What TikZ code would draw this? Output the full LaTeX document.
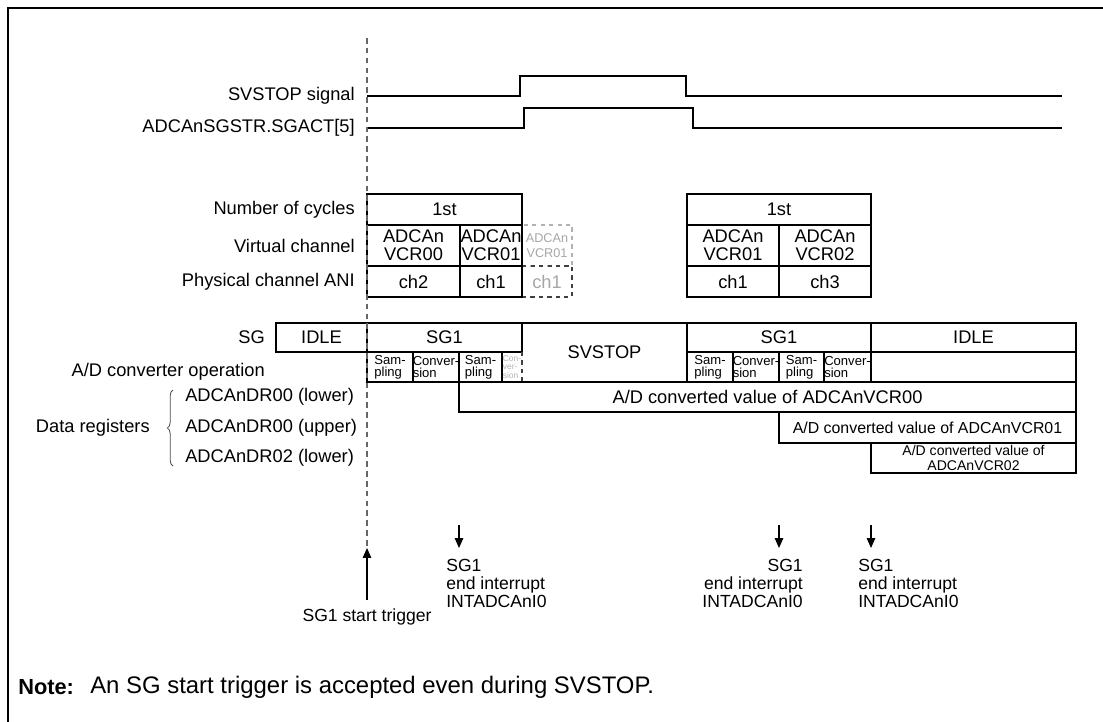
\documentclass[tikz,border=0pt]{standalone}
\usepackage{fontspec}
\setmainfont{Liberation Sans}
\usetikzlibrary{arrows.meta, decorations.pathreplacing}

\begin{document}
\begin{tikzpicture}[
    x=0.025cm, y=-0.025cm,
    >={Triangle[length=7pt, width=6pt]},
    sigtxt/.style={anchor=east, inner sep=0pt, font=\fontsize{13}{15}\selectfont},
    regtxt/.style={anchor=west, inner sep=0pt, font=\fontsize{13}{15}\selectfont},
    cell/.style={rectangle, draw, line width=1.1pt, inner sep=0pt, outer sep=0pt, align=center, font=\fontsize{13}{13}\selectfont},
    opcell/.style={cell, align=left, minimum height=0.75cm, font=\fontsize{9.3}{8.6}\selectfont},
    ghost/.style={cell, dashed, draw=black!30, text=black!35},
    irqtxt/.style={inner sep=0pt, align=left, font=\fontsize{12.5}{12.8}\selectfont},
    wave/.style={line width=1.4pt},
    arrow/.style={->, line width=0.9pt}
]
\useasboundingbox (0,0) rectangle (1103,722);

% ==================== Frame ====================
\draw[line width=1.7pt] (1103,8) -- (8,8) -- (8,722);

% ==================== Signals ====================
\node[sigtxt] (sig_svstop) at (355,96) {SVSTOP signal};
\node[sigtxt] (sig_sgact) at (355,128) {ADCAnSGSTR.SGACT[5]};

\draw[wave] (367,96) -- (520,96) -- (520,76) -- (686,76) -- (686,96) -- (1062,96);
\draw[wave] (367,128) -- (524,128) -- (524,108) -- (693,108) -- (693,128) -- (1062,128);

% ==================== Row labels ====================
\node[sigtxt] (lb_cyc) at (355,209.5) {Number of cycles};
\node[sigtxt] (lb_vc) at (355,245.5) {Virtual channel};
\node[sigtxt] (lb_pc) at (355,281.5) {Physical channel ANI};
\node[sigtxt] (lb_sg) at (265,337.5) {SG};
\node[sigtxt] (lb_ad) at (265,372) {A/D converter operation};

\node[sigtxt] (lb_dr) at (150,428) {Data registers};
\node[regtxt] (dr00_lo) at (185,397) {ADCAnDR00 (lower)};
\node[regtxt] (dr00_up) at (185,428) {ADCAnDR00 (upper)};
\node[regtxt] (dr02_lo) at (185,458) {ADCAnDR02 (lower)};
\draw[decorate, decoration={brace, amplitude=4pt}, line width=0.6pt, black!70] (173,466) -- (173,390);

% ==================== Channel table (first SG1) ====================
\node[ghost, minimum width=1.25cm, minimum height=1.025cm, font=\fontsize{9}{10.5}\selectfont] (vc01_g) at (547,245.5) {ADCAn\\VCR01};
\node[ghost, draw=black!75, minimum width=1.25cm, minimum height=0.775cm] (ch1_g) at (547,281.5) {ch1};

\node[cell, minimum width=3.875cm, minimum height=0.775cm] (cyc_a) at (444.5,209.5) {1st};
\node[cell, minimum width=2.325cm, minimum height=1.025cm] (vc00_a) at (413.5,245.5) {ADCAn\\VCR00};
\node[cell, minimum width=1.55cm, minimum height=1.025cm] (vc01_a) at (491,245.5) {ADCAn\\VCR01};
\node[cell, minimum width=2.325cm, minimum height=0.775cm] (ch2_a) at (413.5,281.5) {ch2};
\node[cell, minimum width=1.55cm, minimum height=0.775cm] (ch1_a) at (491,281.5) {ch1};

% ==================== Channel table (second SG1) ====================
\node[cell, minimum width=4.6cm, minimum height=0.775cm] (cyc_b) at (779,209.5) {1st};
\node[cell, minimum width=2.3cm, minimum height=1.025cm] (vc01_b) at (733,245.5) {ADCAn\\VCR01};
\node[cell, minimum width=2.3cm, minimum height=1.025cm] (vc02_b) at (825,245.5) {ADCAn\\VCR02};
\node[cell, minimum width=2.3cm, minimum height=0.775cm] (ch1_b) at (733,281.5) {ch1};
\node[cell, minimum width=2.3cm, minimum height=0.775cm] (ch3_b) at (825,281.5) {ch3};

% ==================== SG states ====================
\node[cell, minimum width=2.275cm, minimum height=0.725cm] (idle_a) at (321.5,337.5) {IDLE};
\node[cell, minimum width=3.875cm, minimum height=0.725cm] (sg1_a) at (444.5,337.5) {SG1};
\node[cell, draw=none, minimum width=4.125cm, minimum height=1.475cm] (svstop) at (604.5,352.5) {SVSTOP};
\draw[line width=1.1pt] (svstop.north west) -- (svstop.north east) -- (svstop.south east) -- (svstop.south west);
\node[cell, minimum width=4.6cm, minimum height=0.725cm] (sg1_b) at (779,337.5) {SG1};
\node[cell, minimum width=5.125cm, minimum height=0.725cm] (idle_b) at (973.5,337.5) {IDLE};
\node[cell, minimum width=5.125cm, minimum height=0.75cm] (idle_b_op) at (973.5,367) {};

% ==================== A/D operation ====================
\node[opcell, minimum width=1.15cm] (smp_a1) at (390,367) {Sam-\\pling};
\node[opcell, minimum width=1.15cm] (cnv_a1) at (436,367) {Conver-\\sion};
\node[opcell, minimum width=1.075cm] (smp_a2) at (480.5,367) {Sam-\\pling};
\node[opcell, draw=none, text=black!30, minimum width=0.5cm, font=\fontsize{6}{6}\selectfont] (cnv_a2) at (512,367) {Con-\\ver-\\sion};
\draw[line width=1.1pt, dashed, black!75] (cnv_a2.north east) -- (cnv_a2.south east);

\node[opcell, minimum width=1.15cm] (smp_b1) at (710,367) {Sam-\\pling};
\node[opcell, minimum width=1.15cm] (cnv_b1) at (756,367) {Conver-\\sion};
\node[opcell, minimum width=1.125cm] (smp_b2) at (801.5,367) {Sam-\\pling};
\node[opcell, minimum width=1.175cm] (cnv_b2) at (847.5,367) {Conver-\\sion};

% ==================== Converted values ====================
\node[cell, minimum width=15.425cm, minimum height=0.75cm] (val00) at (767.5,397) {A/D converted value of ADCAnVCR00};
\node[cell, minimum width=7.425cm, minimum height=0.775cm, font=\fontsize{11.3}{12}\selectfont] (val01) at (927.5,427.5) {A/D converted value of ADCAnVCR01};
\node[cell, minimum width=5.125cm, minimum height=0.75cm, font=\fontsize{10}{10}\selectfont] (val02) at (973.5,458) {A/D converted value of\\ADCAnVCR02};

% ==================== Trigger and interrupts ====================
\coordinate (trig_top) at (367,38);
\coordinate (trig_tip) at (367,548);
\node[irqtxt, anchor=north] (trig_lbl) at (367,608) {SG1 start trigger};
\draw[line width=0.9pt, black!60, dash pattern=on 4pt off 3pt] (trig_top) -- (trig_tip);
\draw[arrow] ([yshift=6pt]trig_lbl.north) -- (trig_tip);

\coordinate (irq1_top) at (459,525);
\coordinate (irq1_tip) at (459,548);
\coordinate (irq2_top) at (779,525);
\coordinate (irq2_tip) at (779,548);
\coordinate (irq3_top) at (871,525);
\coordinate (irq3_tip) at (871,548);
\draw[arrow] (irq1_top) -- (irq1_tip);
\draw[arrow] (irq2_top) -- (irq2_tip);
\draw[arrow] (irq3_top) -- (irq3_tip);

\node[irqtxt, anchor=north west] (irq1) at (446,559) {SG1\\end interrupt\\INTADCAnI0};
\node[irqtxt, anchor=north east, align=right] (irq2) at (803,559) {SG1\\end interrupt\\INTADCAnI0};
\node[irqtxt, anchor=north west] (irq3) at (858,559) {SG1\\end interrupt\\INTADCAnI0};

% ==================== Note ====================
\node[anchor=west, inner sep=0pt, font=\fontsize{15.5}{17}\selectfont\bfseries] (note_hd) at (18,687) {Note:};
\node[anchor=west, inner sep=0pt, font=\fontsize{17}{18}\selectfont] (note_txt) at (90,687) {An SG start trigger is accepted even during SVSTOP.};

\end{tikzpicture}
\end{document}
